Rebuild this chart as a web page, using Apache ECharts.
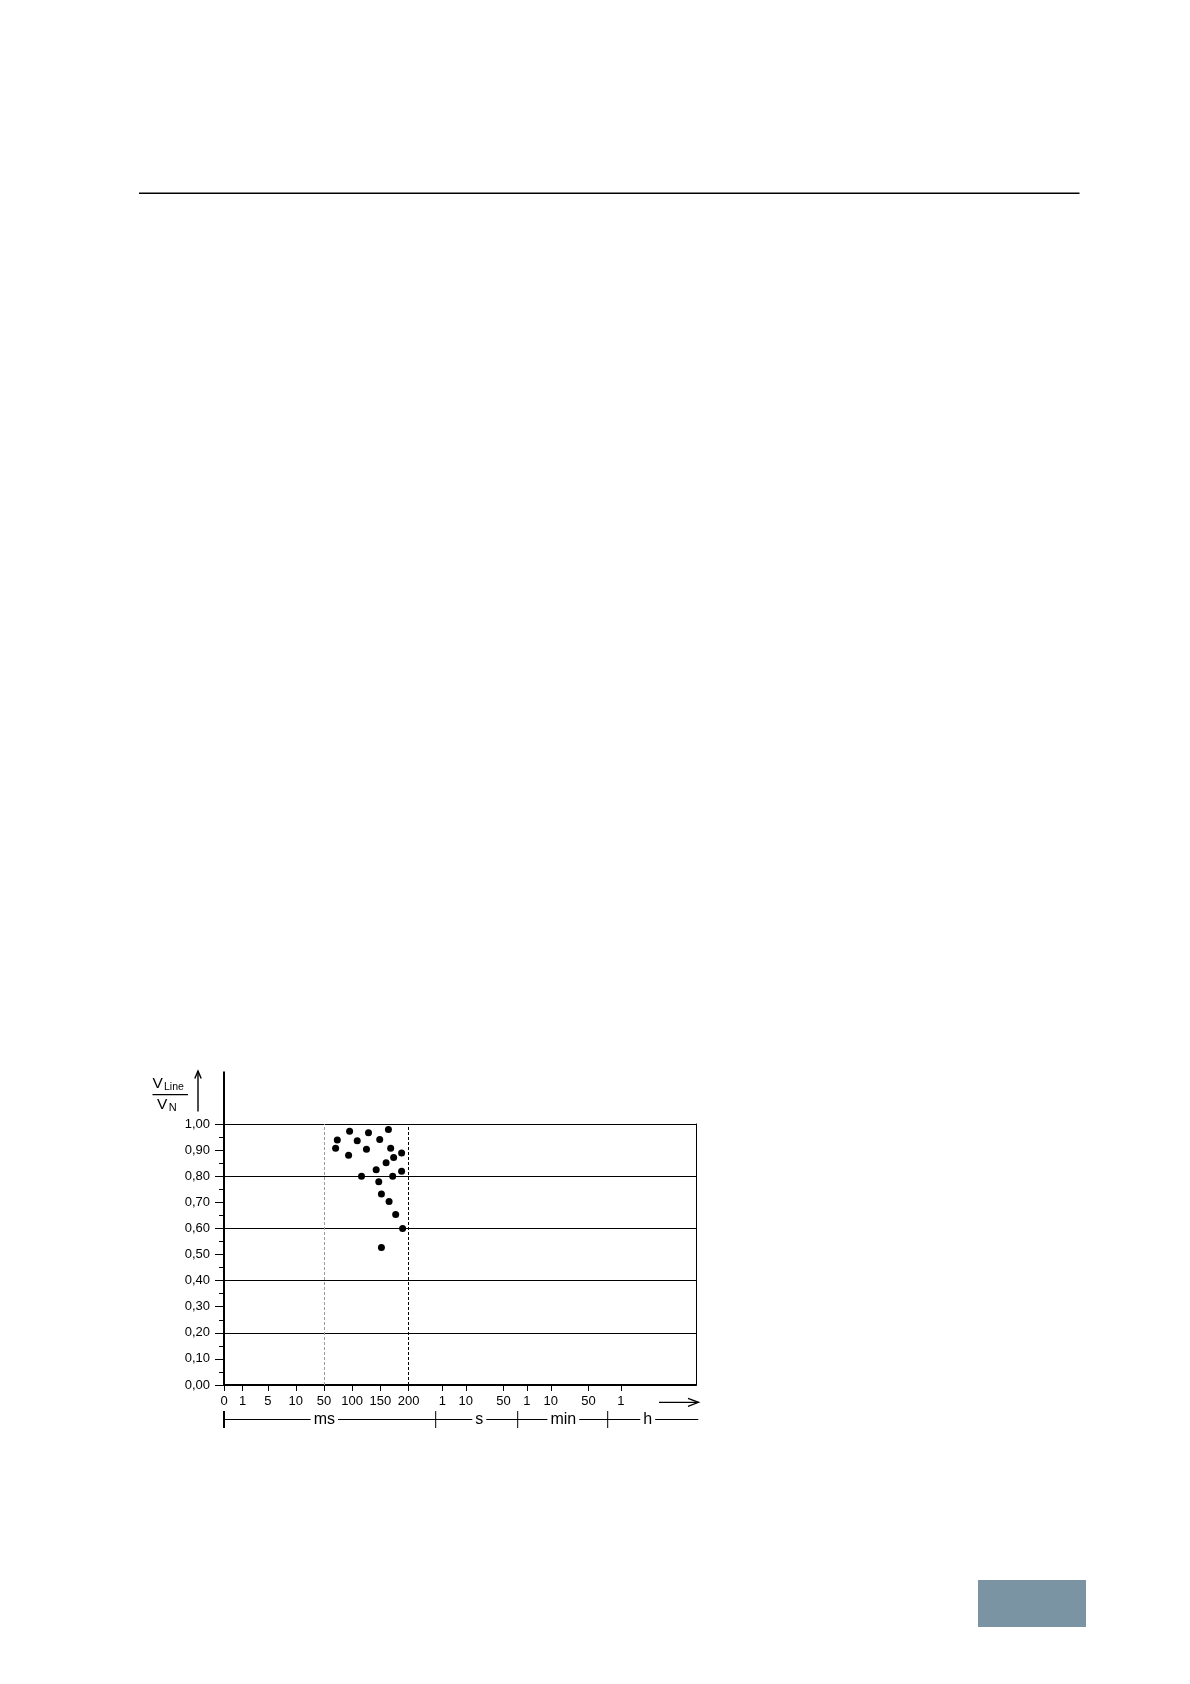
<!DOCTYPE html>
<html lang="de">
<head>
<meta charset="UTF-8">
<title>VLine / VN</title>
<script src="https://cdn.jsdelivr.net/npm/echarts@6/dist/echarts.min.js"></script>
<style>
html, body { margin: 0; padding: 0; background: #fff; }
#chart { width: 1190px; height: 1684px; }
</style>
</head>
<body>
<div id="chart"></div>
<script>
// time axis: labels and where each one sits on the (non linear) axis scale
var tickLabels = ['0', '1', '5', '10', '50', '100', '150', '200', '1', '10', '50', '1', '10', '50', '1'];
var tickScale = [0, 18.5, 43.8, 71.8, 100, 128.2, 156.4, 184.6, 218.3, 241.8, 279.4, 302.8, 326.8, 364.4, 396.8];
var axisEnd = 472;

// unit row under the axis
var unitLabels = ['ms', 's', 'min', 'h'];
var unitBounds = [0, 211.7, 293.7, 383.7];
var unitCenters = [100.3, 255.3, 339.3, 423.7];
var unitEnd = 474.3;

// measured points: duration (ms) and V_Line / V_N
var durationMs = [70.6, 73.6, 95.4, 93.6, 108.9, 128.9, 125.3, 116.5, 148.8, 164.2, 168.2, 173.5,
                  187.6, 160.1, 142.5, 187.6, 147.1, 171.8, 151.8, 165.4, 177.1, 189.4, 151.8];
var voltageRatio = [0.907, 0.939, 0.972, 0.880, 0.936, 0.966, 0.903, 0.800, 0.941, 0.979, 0.907, 0.872,
                    0.889, 0.852, 0.825, 0.819, 0.779, 0.800, 0.732, 0.703, 0.653, 0.600, 0.527];

// dashed limits (ms)
var limitMs = [50, 200];

var FONT = "'Liberation Sans', Arial, sans-serif";

// the ms part of the axis (50 .. 200) is linear
function msToScale(ms) {
    var a = tickScale[4], b = tickScale[7];
    return a + (ms - 50) / 150 * (b - a);
}

function tickLabel(v) {
    for (var i = 0; i < tickScale.length; i++) {
        if (Math.abs(tickScale[i] - v) < 0.01) return tickLabels[i];
    }
    return '';
}

var chart = echarts.init(document.getElementById('chart'));

var points = [];
for (var i = 0; i < durationMs.length; i++) {
    points.push([msToScale(durationMs[i]), voltageRatio[i]]);
}

var option = {
    backgroundColor: '#fff',
    animation: false,
    grid: { left: 224, top: 1124, width: 472, height: 261 },
    xAxis: {
        type: 'value',
        min: 0,
        max: axisEnd,
        axisLine: { show: true, lineStyle: { color: '#000', width: 2 } },
        axisTick: { show: true, customValues: tickScale, length: 6, lineStyle: { color: '#000', width: 1 } },
        axisLabel: {
            customValues: tickScale,
            formatter: tickLabel,
            color: '#000', fontSize: 13, fontFamily: FONT, margin: 10
        },
        splitLine: { show: false }
    },
    yAxis: [{
        type: 'value',
        min: 0,
        max: 1,
        interval: 0.1,
        axisLine: { show: true, lineStyle: { color: '#000', width: 2 } },
        axisTick: { show: true, length: 9, lineStyle: { color: '#000', width: 1 } },
        minorTick: { show: true, splitNumber: 2, length: 5, lineStyle: { color: '#000', width: 1 } },
        axisLabel: {
            formatter: function (v) { return v.toFixed(2).replace('.', ','); },
            color: '#000', fontSize: 13, fontFamily: FONT, margin: 14
        },
        splitLine: { show: false }
    }, {
        type: 'value',
        min: 0,
        max: 1,
        interval: 0.2,
        position: 'right',
        axisLine: { show: true, lineStyle: { color: '#000', width: 1 } },
        axisTick: { show: false },
        axisLabel: { show: false },
        splitLine: { show: true, lineStyle: { color: '#000', width: 1 } }
    }],
    series: [{
        type: 'scatter',
        symbolSize: 7,
        itemStyle: { color: '#000', opacity: 1 },
        data: points,
        markLine: {
            silent: true,
            symbol: 'none',
            label: { show: false },
            data: [
                { xAxis: msToScale(limitMs[0]), lineStyle: { color: '#9a9a9a', width: 1, type: [3, 2] } },
                { xAxis: msToScale(limitMs[1]), lineStyle: { color: '#000', width: 1, type: [3, 2] } }
            ]
        },
        z: 5
    }]
};

chart.setOption(option);

// decorations placed from the axis scale
var px = function (v) { return chart.convertToPixel({ xAxisIndex: 0 }, v); };
var py = function (v) { return chart.convertToPixel({ yAxisIndex: 0 }, v); };
var x0 = px(0), yTop = py(1), yBase = py(0);
var unitY = yBase + 34.5;

var g = [];
// header rule and page tab
g.push({ type: 'line', shape: { x1: 139, y1: 193.3, x2: 1079.5, y2: 193.3 }, style: { stroke: '#000', lineWidth: 1.4 } });
g.push({ type: 'rect', shape: { x: 978, y: 1580, width: 108, height: 47 }, style: { fill: '#7a94a4' } });

// y axis runs above the plot
g.push({ type: 'line', shape: { x1: x0, y1: yTop - 52.5, x2: x0, y2: yTop }, style: { stroke: '#000', lineWidth: 2 } });

// y axis title V_Line / V_N with arrow
g.push({ type: 'text', x: 152.5, y: 1076, style: { text: 'V', font: '15.5px ' + FONT, fill: '#000' } });
g.push({ type: 'text', x: 164, y: 1082, style: { text: 'Line', font: '10.5px ' + FONT, fill: '#000' } });
g.push({ type: 'line', shape: { x1: 152.5, y1: 1094.7, x2: 188, y2: 1094.7 }, style: { stroke: '#000', lineWidth: 1.2 } });
g.push({ type: 'text', x: 157, y: 1096.5, style: { text: 'V', font: '15.5px ' + FONT, fill: '#000' } });
g.push({ type: 'text', x: 168.8, y: 1102, style: { text: 'N', font: '11px ' + FONT, fill: '#000' } });
g.push({ type: 'line', shape: { x1: 198, y1: 1071, x2: 198, y2: 1111.5 }, style: { stroke: '#000', lineWidth: 1.4 } });
g.push({ type: 'polyline', shape: { points: [[194.8, 1078.5], [198, 1071], [201.2, 1078.5]] }, style: { stroke: '#000', lineWidth: 1.4, fill: null } });

// x direction arrow
g.push({ type: 'line', shape: { x1: 659, y1: 1402.3, x2: 698.5, y2: 1402.3 }, style: { stroke: '#000', lineWidth: 1.3 } });
g.push({ type: 'polyline', shape: { points: [[688, 1398.3], [698.5, 1402.3], [688, 1406.3]] }, style: { stroke: '#000', lineWidth: 1.3, fill: null } });

// unit row: ms | s | min | h
g.push({ type: 'line', shape: { x1: px(0), y1: unitY, x2: px(unitEnd), y2: unitY }, style: { stroke: '#000', lineWidth: 1 } });
for (var k = 0; k < unitBounds.length; k++) {
    g.push({
        type: 'line',
        shape: { x1: px(unitBounds[k]), y1: unitY - 8.5, x2: px(unitBounds[k]), y2: unitY + 8.5 },
        style: { stroke: '#000', lineWidth: k === 0 ? 2 : 1 }
    });
}
for (var u = 0; u < unitLabels.length; u++) {
    g.push({
        type: 'text', x: px(unitCenters[u]), y: unitY, z: 10,
        style: {
            text: unitLabels[u], font: '16px ' + FONT, fill: '#000',
            align: 'center', verticalAlign: 'middle',
            backgroundColor: '#fff', padding: [0, 3]
        }
    });
}

chart.setOption({ graphic: g });
</script>
</body>
</html>
